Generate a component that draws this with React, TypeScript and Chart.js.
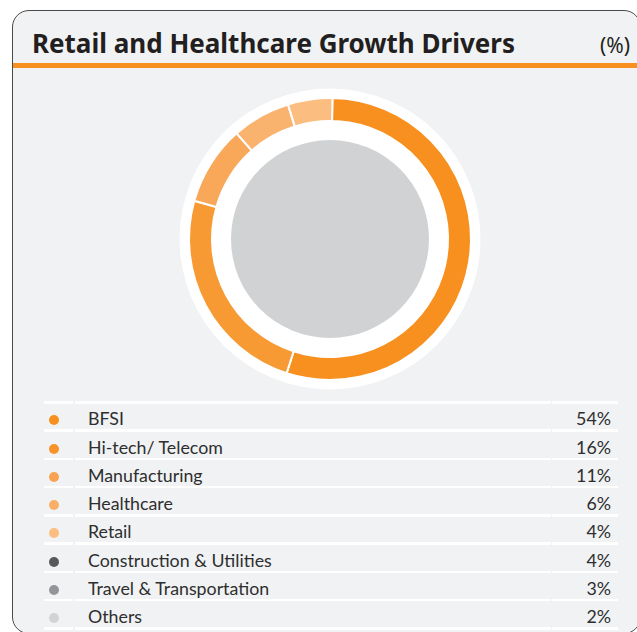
import React, { useEffect, useRef } from "react";
import { Chart, registerables } from "chart.js";

Chart.register(...registerables);

// ---- data ----
const title = "Retail and Healthcare Growth Drivers";
const unitLabel = "(%)";
const categories = [
  "BFSI",
  "Hi-tech/ Telecom",
  "Manufacturing",
  "Healthcare",
  "Retail",
  "Construction & Utilities",
  "Travel & Transportation",
  "Others",
];
const shares = [54, 16, 11, 6, 4, 4, 3, 2];
const dotColors = [
  "#F7901E",
  "#F7932A",
  "#F9A352",
  "#FAAF66",
  "#FCBE80",
  "#58595B",
  "#939598",
  "#D1D3D4",
];
// segments drawn in the ring (arc sizes)
const ringCategories = ["BFSI", "Hi-tech/ Telecom", "Manufacturing", "Healthcare", "Retail"];
const ringShares = [54.7, 24.4, 9.1, 6.7, 5.1];
const ringColors = ["#F7901E", "#F79A33", "#F9A85A", "#FAB36E", "#FCBE80"];

const FONT = "Lato, 'Noto Sans', sans-serif";
const TITLE_FONT = "'Noto Sans', 'Open Sans', sans-serif";

const ringDecor = {
  id: "ringDecor",
  beforeDatasetsDraw(chart: any) {
    const meta = chart.getDatasetMeta(0);
    const arc = meta.data[0];
    if (!arc) return;
    const { x, y, outerRadius } = arc.getProps(["x", "y", "outerRadius"], true);
    const ctx = chart.ctx;
    ctx.save();
    ctx.beginPath();
    ctx.arc(x, y, outerRadius + 9.5, 0, Math.PI * 2);
    ctx.fillStyle = "#FFFFFF";
    ctx.fill();
    ctx.restore();
  },
  afterDatasetsDraw(chart: any) {
    const meta = chart.getDatasetMeta(0);
    const arc = meta.data[0];
    if (!arc) return;
    const { x, y } = arc.getProps(["x", "y"], true);
    const ctx = chart.ctx;
    ctx.save();
    ctx.beginPath();
    ctx.arc(x, y, 99, 0, Math.PI * 2);
    ctx.fillStyle = "#D1D2D4";
    ctx.fill();
    ctx.restore();
  },
};

function Donut() {
  const ref = useRef<HTMLCanvasElement | null>(null);
  useEffect(() => {
    if (!ref.current) return;
    const chart = new Chart(ref.current, {
      type: "doughnut",
      data: {
        labels: ringCategories,
        datasets: [
          {
            data: ringShares,
            backgroundColor: ringColors,
            borderColor: "#FFFFFF",
            borderWidth: 2,
          },
        ],
      },
      options: {
        responsive: false,
        animation: false,
        rotation: 1,
        radius: 141,
        cutout: "83.7%",
        layout: { padding: 0 },
        plugins: {
          legend: { display: false },
          tooltip: { enabled: false },
        },
      } as any,
      plugins: [ringDecor],
    });
    return () => chart.destroy();
  }, []);
  return (
    <canvas
      ref={ref}
      width={320}
      height={320}
      style={{ position: "absolute", left: 169.5, top: 78.5, width: 320, height: 320 }}
    />
  );
}

const ROW_TOP = 402.3;
const ROW_H = 28.25;

function Separator() {
  return (
    <>
      <div style={{ position: "absolute", left: 44, top: -1.2, width: 29, height: 2.6, background: "#FFFFFF" }} />
      <div style={{ position: "absolute", left: 74.5, top: -1.2, width: 476, height: 2.6, background: "#FFFFFF" }} />
      <div style={{ position: "absolute", left: 551.5, top: -1.2, width: 66, height: 2.6, background: "#FFFFFF" }} />
    </>
  );
}

export default function App() {
  return (
    <div
      style={{
        position: "absolute",
        left: 0,
        top: 0,
        width: 637,
        height: 632,
        overflow: "hidden",
        background: "#FFFFFF",
        fontFamily: FONT,
      }}
    >
      <div
        style={{
          position: "absolute",
          left: 12,
          top: 10,
          width: 629,
          height: 624,
          border: "1px solid #4A4A4A",
          borderRadius: 17,
          background: "#F1F2F4",
          boxSizing: "border-box",
          overflow: "hidden",
        }}
      >
        <div
          style={{
            position: "absolute",
            left: 0,
            top: 52,
            width: "100%",
            height: 5,
            background: "#F7901E",
          }}
        />
      </div>
      <div
        style={{
          position: "absolute",
          left: 32,
          top: 25.2,
          fontFamily: TITLE_FONT,
          fontSize: 26,
          fontWeight: 700,
          color: "#231F20",
          lineHeight: "36px",
          whiteSpace: "nowrap",
        }}
      >
        {title}
      </div>
      <div
        style={{
          position: "absolute",
          left: 600,
          top: 30,
          fontFamily: TITLE_FONT,
          fontSize: 21,
          color: "#231F20",
          lineHeight: "30px",
          whiteSpace: "nowrap",
        }}
      >
        {unitLabel}
      </div>
      <Donut />
      {categories.map((c, i) => {
        const top = ROW_TOP + i * ROW_H;
        return (
          <div key={c} style={{ position: "absolute", left: 0, top, width: 637, height: ROW_H }}>
            <Separator />
            <div
              style={{
                position: "absolute",
                left: 49,
                top: 13,
                width: 10,
                height: 10,
                borderRadius: 5,
                background: dotColors[i],
              }}
            />
            <div
              style={{
                position: "absolute",
                left: 88,
                top: 2,
                lineHeight: "28px",
                fontSize: 17.8,
                color: "#2E2E2E",
                whiteSpace: "nowrap",
              }}
            >
              {c}
            </div>
            <div
              style={{
                position: "absolute",
                right: 637 - 611,
                top: 2,
                lineHeight: "28px",
                fontSize: 17.8,
                color: "#2E2E2E",
                whiteSpace: "nowrap",
                textAlign: "right",
              }}
            >
              {shares[i] + "%"}
            </div>
          </div>
        );
      })}
      <div style={{ position: "absolute", left: 0, top: ROW_TOP + categories.length * ROW_H, width: 637 }}>
        <Separator />
      </div>
    </div>
  );
}
